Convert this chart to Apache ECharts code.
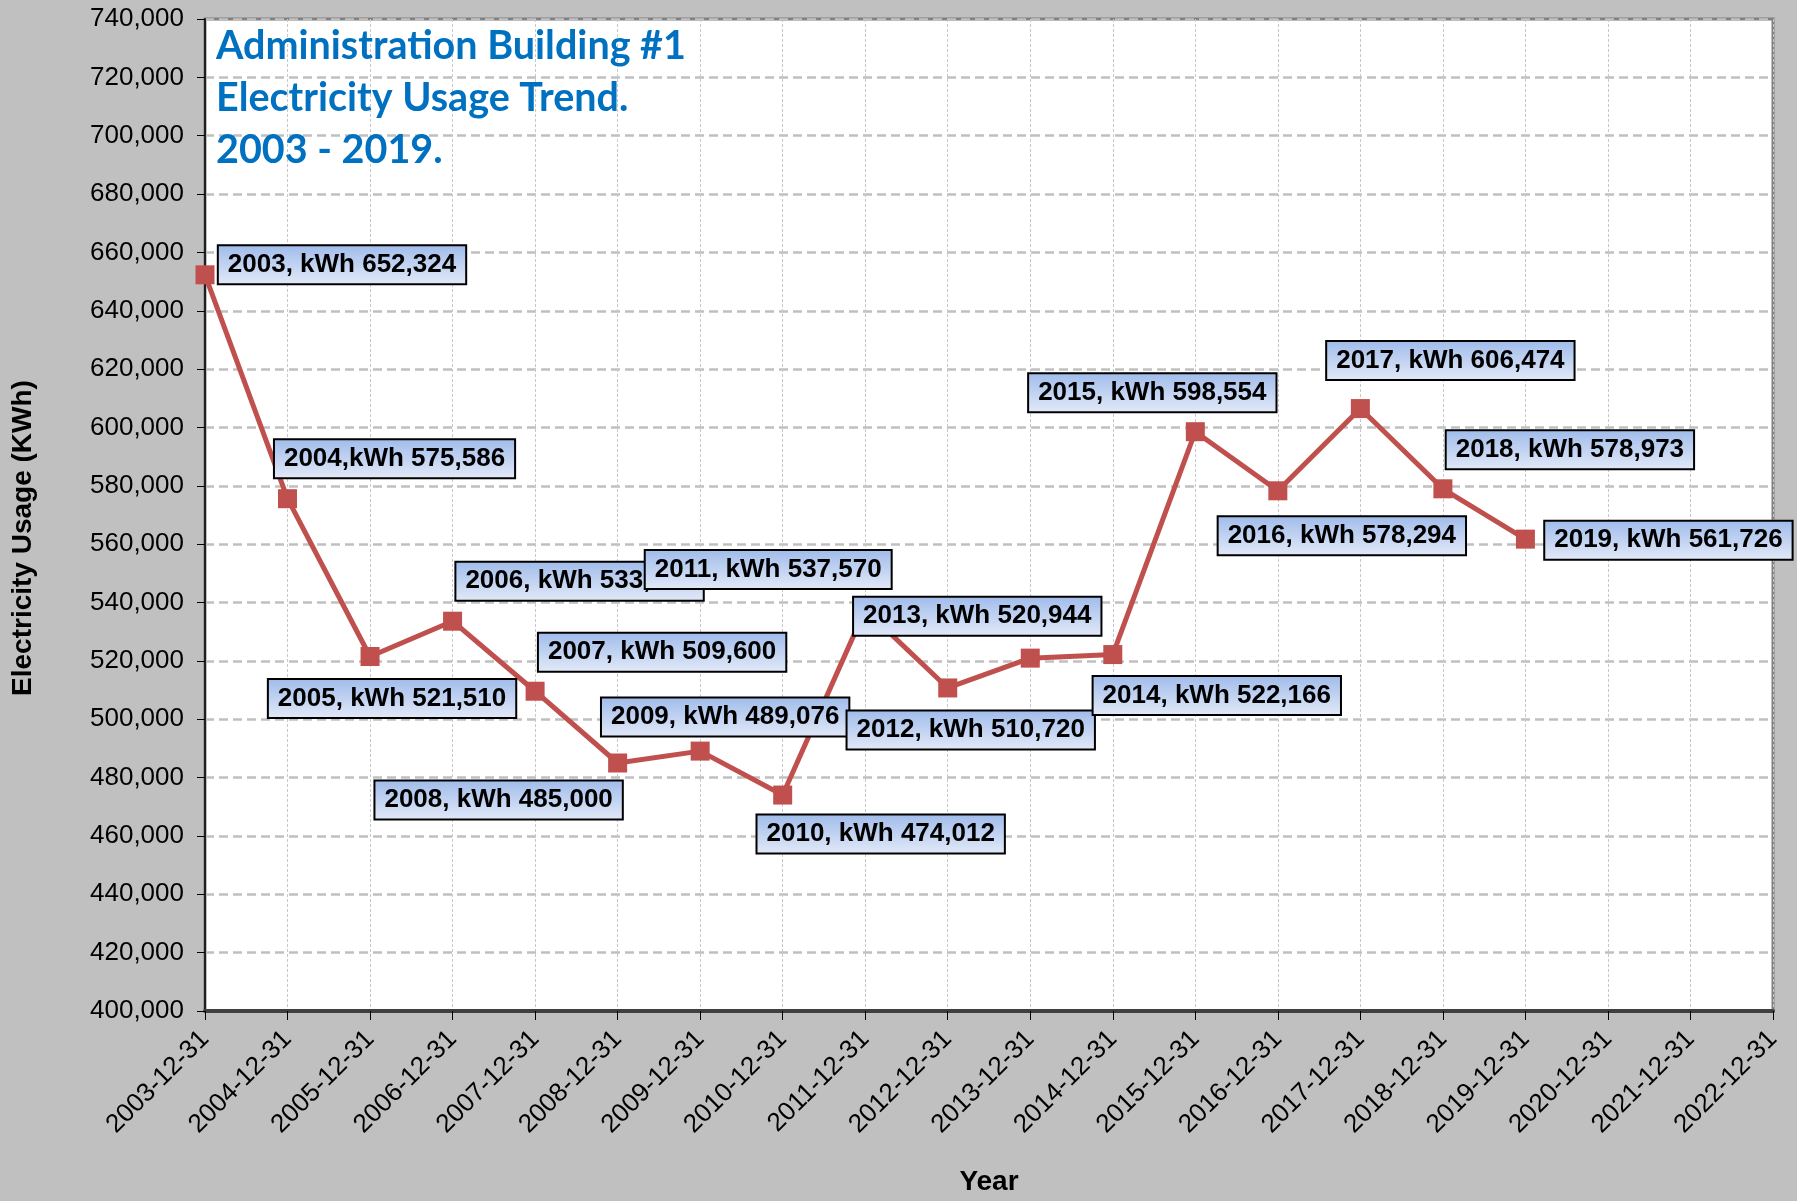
<!DOCTYPE html>
<html>
<head>
<meta charset="utf-8">
<script src="https://cdn.jsdelivr.net/npm/echarts@6/dist/echarts.min.js"></script>
<style>
html,body{margin:0;padding:0;background:#C0C0C0;}
#chart{width:1797px;height:1201px;}
</style>
</head>
<body>
<div id="chart"></div>
<script>
// ---- data ----
const categories = ['2003-12-31','2004-12-31','2005-12-31','2006-12-31','2007-12-31','2008-12-31','2009-12-31','2010-12-31','2011-12-31','2012-12-31','2013-12-31','2014-12-31','2015-12-31','2016-12-31','2017-12-31','2018-12-31','2019-12-31','2020-12-31','2021-12-31','2022-12-31'];
const usageKWh = [652324, 575586, 521510, 533600, 509600, 485000, 489076, 474012, 537570, 510720, 520944, 522166, 598554, 578294, 606474, 578973, 561726, null, null, null];
const labelTexts = ['2003, kWh 652,324','2004,kWh 575,586','2005, kWh 521,510','2006, kWh 533,600','2007, kWh 509,600','2008, kWh 485,000','2009, kWh 489,076','2010, kWh 474,012','2011, kWh 537,570','2012, kWh 510,720','2013, kWh 520,944','2014, kWh 522,166','2015, kWh 598,554','2016, kWh 578,294','2017, kWh 606,474','2018, kWh 578,973','2019, kWh 561,726'];
const yTickMin = 400000, yTickMax = 740000, yTickStep = 20000;
const titleLines = ['Administration Building #1', 'Electricity Usage Trend.', '2003 - 2019.'];

// ---- label placement (style, not data): centre offsets from each marker ----
const labelOffsets = [[137,-10],[107,-40],[22,42],[127,-40],[127,-39],[-119,37],[25,-34],[98,39],[-97,-40],[23,42],[-53,-42],[104,41],[-43,-39],[64,45],[90,-48],[127,-39],[143,1]];

const chart = echarts.init(document.getElementById('chart'), null, {renderer:'canvas'});
const boxFill = new echarts.graphic.LinearGradient(0,0,0,1,[{offset:0,color:'#9FBBEA'},{offset:1,color:'#E3EAF8'}]);

const seriesData = usageKWh.map((v, i) => {
  if (v === null) return null;
  return {
    value: v,
    label: { show: true, formatter: labelTexts[i] }
  };
});

chart.setOption({
  backgroundColor: '#C0C0C0',
  animation: false,
  title: {
    text: titleLines.join('\n'),
    left: 211,
    top: 15,
    textStyle: {
      fontFamily: 'Lato',
      fontWeight: 'bold',
      fontSize: 39.5,
      lineHeight: 52,
      color: '#0070C0'
    }
  },
  grid: {
    left: 205, right: 24, top: 19, bottom: 185,
    show: true,
    backgroundColor: '#FFFFFF',
    borderColor: '#808080',
    borderWidth: 3
  },
  xAxis: {
    type: 'category',
    data: categories,
    boundaryGap: false,
    name: 'Year',
    nameLocation: 'middle',
    nameGap: 157,
    nameTextStyle: {fontFamily:'Liberation Sans, Arial', fontWeight:'bold', fontSize:28, color:'#000'},
    axisLine: {show:true, lineStyle:{color:'#404040', width:4}},
    axisTick: {show:true, interval:0, length:9, lineStyle:{color:'#000', width:1}},
    axisLabel: {interval:0, rotate:45, margin:24, fontFamily:'Liberation Sans, Arial', fontSize:26, color:'#000'},
    splitLine: {show:true, interval:0, lineStyle:{color:'#C8C8C8', width:1, type:[3,2]}}
  },
  yAxis: {
    type: 'value',
    min: yTickMin, max: yTickMax, interval: yTickStep,
    name: 'Electricity Usage (KWh)',
    nameLocation: 'middle',
    nameGap: 168,
    nameTextStyle: {fontFamily:'Liberation Sans, Arial', fontWeight:'bold', fontSize:28, color:'#000', padding:[0,46,0,0]},
    axisLine: {show:true, lineStyle:{color:'#202020', width:2}},
    axisTick: {show:true, length:8, lineStyle:{color:'#000', width:1}},
    axisLabel: {margin:21, fontFamily:'Liberation Sans, Arial', fontSize:26, color:'#000',
      formatter: v => v.toLocaleString('en-US')},
    splitLine: {show:true, lineStyle:{color:'#C0C0C0', width:2.5, type:[9,5]}}
  },
  series: [{
    type: 'line',
    data: seriesData,
    clip: false,
    symbol: 'rect',
    symbolSize: 19,
    showSymbol: true,
    showAllSymbol: true,
    connectNulls: false,
    lineStyle: {color:'#C0504D', width:5},
    itemStyle: {color:'#C0504D'},
    label: {
      show: true,
      position: 'inside',
      fontFamily: 'Liberation Sans, Arial',
      fontWeight: 'bold',
      fontSize: 26,
      color: '#000',
      backgroundColor: boxFill,
      borderColor: '#000',
      borderWidth: 2,
      padding: [6, 9, 5, 9]
    },
    labelLayout: function (p) {
      const o = labelOffsets[p.dataIndex] || [0, 0];
      return { dx: o[0], dy: o[1], hideOverlap: false, moveOverlap: false };
    }
  }]
});
</script>
</body>
</html>
